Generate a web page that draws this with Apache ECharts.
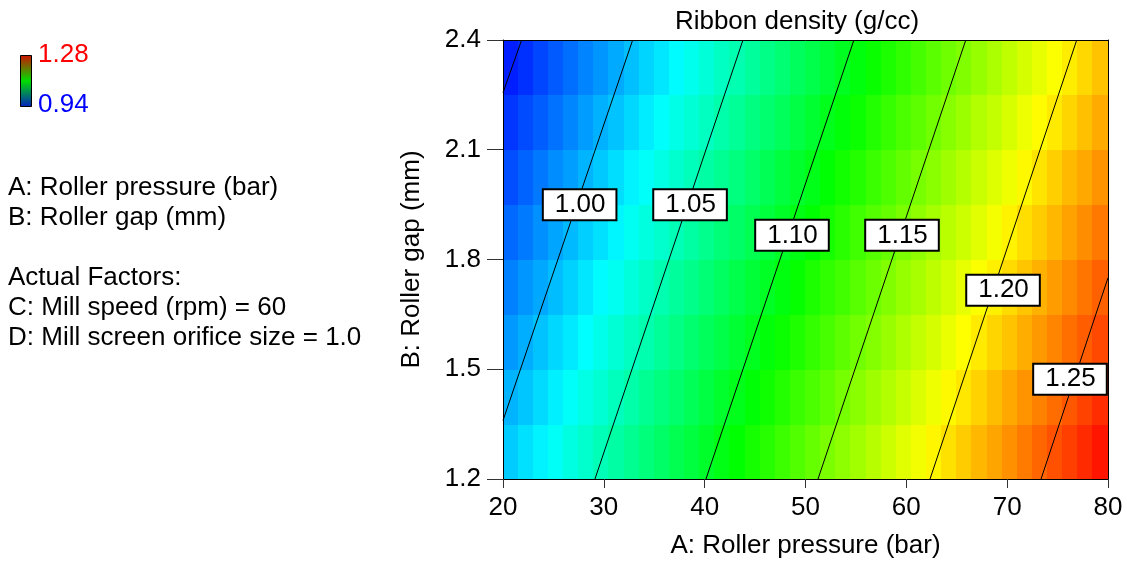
<!DOCTYPE html>
<html>
<head>
<meta charset="utf-8">
<script src="https://cdn.jsdelivr.net/npm/echarts@6/dist/echarts.min.js"></script>
<style>html,body{margin:0;padding:0;background:#fff;}#chart{width:1127px;height:561px;}</style>
</head>
<body>
<div id="chart"></div>
<script>
// ---- data ----
const pressureRange = [20, 80];       // A: Roller pressure (bar), 40 cell columns
const gapRows = [1.275, 1.425, 1.575, 1.725, 1.875, 2.025, 2.175, 2.325]; // B: Roller gap (mm), row centres
const xTicks = [20, 30, 40, 50, 60, 70, 80];
const yTicks = [1.2, 1.5, 1.8, 2.1, 2.4];

// ribbon density (g/cc), one array per row of cells (A = 20 -> 80)
const density_B1275 = [1.008,1.015,1.021,1.028,1.035,1.042,1.049,1.055,1.062,1.069,1.076,1.083,1.089,1.096,1.103,1.110,1.117,1.123,1.130,1.137,1.144,1.151,1.157,1.164,1.171,1.178,1.185,1.191,1.198,1.205,1.212,1.219,1.225,1.232,1.239,1.246,1.253,1.259,1.266,1.273];
const density_B1425 = [1.000,1.006,1.013,1.020,1.027,1.034,1.040,1.047,1.054,1.061,1.068,1.074,1.081,1.088,1.095,1.101,1.108,1.115,1.122,1.129,1.135,1.142,1.149,1.156,1.163,1.169,1.176,1.183,1.190,1.197,1.203,1.210,1.217,1.224,1.231,1.237,1.244,1.251,1.258,1.265];
const density_B1575 = [0.991,0.998,1.005,1.012,1.018,1.025,1.032,1.039,1.046,1.052,1.059,1.066,1.073,1.080,1.086,1.093,1.100,1.107,1.114,1.120,1.127,1.134,1.141,1.148,1.154,1.161,1.168,1.175,1.181,1.188,1.195,1.202,1.209,1.215,1.222,1.229,1.236,1.243,1.249,1.256];
const density_B1725 = [0.983,0.990,0.996,1.003,1.010,1.017,1.024,1.030,1.037,1.044,1.051,1.058,1.064,1.071,1.078,1.085,1.092,1.098,1.105,1.112,1.119,1.126,1.132,1.139,1.146,1.153,1.160,1.166,1.173,1.180,1.187,1.194,1.200,1.207,1.214,1.221,1.228,1.234,1.241,1.248];
const density_B1875 = [0.975,0.981,0.988,0.995,1.002,1.009,1.015,1.022,1.029,1.036,1.042,1.049,1.056,1.063,1.070,1.076,1.083,1.090,1.097,1.104,1.110,1.117,1.124,1.131,1.138,1.144,1.151,1.158,1.165,1.172,1.178,1.185,1.192,1.199,1.206,1.212,1.219,1.226,1.233,1.240];
const density_B2025 = [0.966,0.973,0.980,0.987,0.993,1.000,1.007,1.014,1.021,1.027,1.034,1.041,1.048,1.055,1.061,1.068,1.075,1.082,1.089,1.095,1.102,1.109,1.116,1.122,1.129,1.136,1.143,1.150,1.156,1.163,1.170,1.177,1.184,1.190,1.197,1.204,1.211,1.218,1.224,1.231];
const density_B2175 = [0.958,0.965,0.971,0.978,0.985,0.992,0.999,1.005,1.012,1.019,1.026,1.033,1.039,1.046,1.053,1.060,1.067,1.073,1.080,1.087,1.094,1.101,1.107,1.114,1.121,1.128,1.135,1.141,1.148,1.155,1.162,1.169,1.175,1.182,1.189,1.196,1.202,1.209,1.216,1.223];
const density_B2325 = [0.950,0.956,0.963,0.970,0.977,0.984,0.990,0.997,1.004,1.011,1.017,1.024,1.031,1.038,1.045,1.051,1.058,1.065,1.072,1.079,1.085,1.092,1.099,1.106,1.113,1.119,1.126,1.133,1.140,1.147,1.153,1.160,1.167,1.174,1.181,1.187,1.194,1.201,1.208,1.215];
const densityRows = [density_B1275, density_B1425, density_B1575, density_B1725, density_B1875, density_B2025, density_B2175, density_B2325];

// contour lines: level, one end point and other end point [A, B]
const contourLevels = ['0.95', '1.00', '1.05', '1.10', '1.15', '1.20', '1.25'];
const contourEndA = [[21.85, 2.4], [32.86, 2.4], [43.8, 2.4], [54.8, 2.4], [65.9, 2.4], [76.9, 2.4], [80, 1.75]];
const contourEndB = [[20, 2.256], [20, 1.36], [29.12, 1.2], [40.13, 1.2], [51.24, 1.2], [62.35, 1.2], [73.36, 1.2]];
// where the level boxes sit [A, B, text]
const contourLabels = [[27.6, 1.95, '1.00'], [38.55, 1.95, '1.05'], [48.66, 1.866, '1.10'], [59.57, 1.866, '1.15'], [69.59, 1.716, '1.20'], [76.23, 1.473, '1.25']];
const colorRange = [0.94, 1.28];

// ---- build ----
const FONT = '"Liberation Sans", Arial, sans-serif';
const nCols = densityRows[0].length;
const cellA = (pressureRange[1] - pressureRange[0]) / nCols;
const cellB = gapRows[1] - gapRows[0];
const cells = [];
densityRows.forEach((row, j) => {
  row.forEach((v, i) => {
    cells.push([pressureRange[0] + cellA * (i + 0.5), gapRows[j], v]);
  });
});

const series = [];
series.push({
  type: 'custom',
  xAxisIndex: 0, yAxisIndex: 0,
  z: 1,
  clip: true,
  data: cells,
  encode: { x: 0, y: 1 },
  renderItem: function (params, api) {
    const a = api.value(0), b = api.value(1);
    const p0 = api.coord([a - cellA / 2, b + cellB / 2]);
    const p1 = api.coord([a + cellA / 2, b - cellB / 2]);
    const x = Math.floor(p0[0]), y = Math.floor(p0[1]);
    return {
      type: 'rect',
      shape: { x: x, y: y, width: Math.ceil(p1[0]) - x, height: Math.ceil(p1[1]) - y },
      style: { fill: api.visual('color') }
    };
  }
});
contourLevels.forEach((lv, k) => {
  series.push({
    type: 'line',
    xAxisIndex: 0, yAxisIndex: 0,
    z: 3,
    symbol: 'none',
    silent: true,
    lineStyle: { color: '#000', width: 1 },
    data: [contourEndA[k], contourEndB[k]]
  });
});
series.push({
  type: 'scatter',
  xAxisIndex: 0, yAxisIndex: 0,
  z: 5,
  symbolSize: 1,
  itemStyle: { opacity: 1, color: 'rgba(0,0,0,0)' },
  emphasis: { disabled: true },
  data: contourLabels.map(d => ({ value: [d[0], d[1]], name: d[2] })),
  label: {
    show: true,
    position: 'inside',
    formatter: p => p.name,
    color: '#000',
    opacity: 1,
    fontFamily: FONT,
    fontSize: 26,
    lineHeight: 26,
    backgroundColor: '#ffffff',
    borderColor: '#000',
    borderWidth: 2,
    padding: [2, 10, 1, 11]
  }
});

const axisText = { color: '#000', fontFamily: FONT, fontSize: 26 };

const option = {
  animation: false,
  backgroundColor: '#fff',
  grid: { left: 503, right: 19, top: 40, bottom: 82, containLabel: false, outerBoundsMode: 'none' },
  visualMap: {
    show: false,
    type: 'continuous',
    seriesIndex: 0,
    dimension: 2,
    min: colorRange[0],
    max: colorRange[1],
    inRange: { color: ['#0000ff', '#00ffff', '#00ff00', '#ffff00', '#ff0000'] }
  },
  xAxis: [{
    type: 'value', position: 'bottom', min: xTicks[0], max: xTicks[xTicks.length - 1], interval: 10,
    z: 10,
    axisLine: { show: true, lineStyle: { color: '#000', width: 1 } },
    axisTick: { show: true, length: 9, lineStyle: { color: '#333' } },
    axisLabel: Object.assign({ margin: 16 }, axisText),
    splitLine: { show: false },
    name: 'A: Roller pressure (bar)', nameLocation: 'middle', nameGap: 54,
    nameTextStyle: axisText
  }, {
    type: 'value', position: 'top', min: xTicks[0], max: xTicks[xTicks.length - 1], z: 10,
    axisLine: { show: true, lineStyle: { color: '#000', width: 1 } },
    axisTick: { show: false }, axisLabel: { show: false }, splitLine: { show: false }
  }],
  yAxis: [{
    type: 'value', position: 'left', min: yTicks[0], max: yTicks[yTicks.length - 1], interval: 0.3,
    z: 10,
    axisLine: { show: true, lineStyle: { color: '#000', width: 1 } },
    axisTick: { show: true, length: 16, lineStyle: { color: '#333' } },
    axisLabel: Object.assign({ margin: 22, formatter: v => v.toFixed(1) }, axisText),
    splitLine: { show: false },
    name: 'B: Roller gap (mm)', nameLocation: 'middle', nameGap: 78,
    nameTextStyle: axisText
  }, {
    type: 'value', position: 'right', min: yTicks[0], max: yTicks[yTicks.length - 1], z: 10,
    axisLine: { show: true, lineStyle: { color: '#000', width: 1 } },
    axisTick: { show: false }, axisLabel: { show: false }, splitLine: { show: false }
  }],
  graphic: [
    { type: 'text', x: 797, y: 22, style: { text: 'Ribbon density (g/cc)', fill: '#000', font: '26px ' + FONT, textAlign: 'center', textVerticalAlign: 'middle' } },
    { type: 'rect', shape: { x: 20.5, y: 55.5, width: 11, height: 51 },
      style: { stroke: '#000', lineWidth: 1,
        fill: new echarts.graphic.LinearGradient(0, 0, 0, 1, [
          { offset: 0, color: '#d01000' }, { offset: 0.5, color: '#00dd00' }, { offset: 1, color: '#0020c0' }]) } },
    { type: 'text', x: 38, y: 55, style: { text: '1.28', fill: '#ff0000', font: '26px ' + FONT, textVerticalAlign: 'middle' } },
    { type: 'text', x: 38, y: 105, style: { text: '0.94', fill: '#0000ff', font: '26px ' + FONT, textVerticalAlign: 'middle' } },
    { type: 'text', x: 8, y: 188, style: { text: 'A: Roller pressure (bar)', fill: '#000', font: '26px ' + FONT, textVerticalAlign: 'middle' } },
    { type: 'text', x: 8, y: 218, style: { text: 'B: Roller gap (mm)', fill: '#000', font: '26px ' + FONT, textVerticalAlign: 'middle' } },
    { type: 'text', x: 8, y: 278, style: { text: 'Actual Factors:', fill: '#000', font: '26px ' + FONT, textVerticalAlign: 'middle' } },
    { type: 'text', x: 8, y: 308, style: { text: 'C: Mill speed (rpm) = 60', fill: '#000', font: '26px ' + FONT, textVerticalAlign: 'middle' } },
    { type: 'text', x: 8, y: 338, style: { text: 'D: Mill screen orifice size = 1.0', fill: '#000', font: '26px ' + FONT, textVerticalAlign: 'middle' } }
  ],
  series: series
};

const chart = echarts.init(document.getElementById('chart'), null, { renderer: 'canvas' });
chart.setOption(option);
</script>
</body>
</html>
